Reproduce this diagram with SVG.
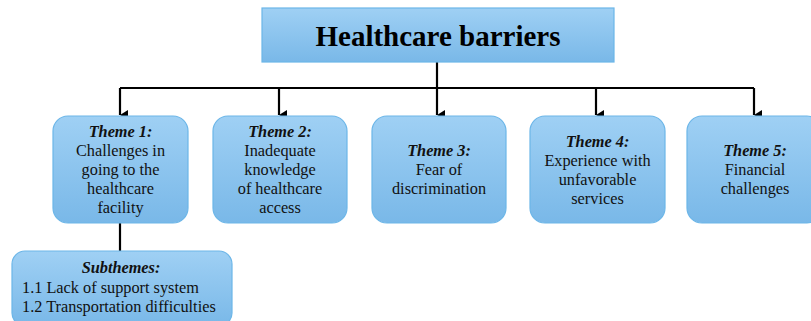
<svg xmlns="http://www.w3.org/2000/svg" width="811" height="321" viewBox="0 0 811 321">
  <defs>
    <linearGradient id="boxFill" x1="0" y1="0" x2="0" y2="1">
      <stop offset="0" stop-color="#9fd0f4"/>
      <stop offset="1" stop-color="#79b8e8"/>
    </linearGradient>
    <marker id="arrow" markerWidth="10" markerHeight="10" refX="5" refY="8" orient="auto" markerUnits="userSpaceOnUse" viewBox="0 0 10 10">
      <path d="M0,0 L10,0 L5,8 Z" fill="#000"/>
    </marker>
    <style>
      .box { fill: url(#boxFill); stroke: #6cb6e8; stroke-width: 1.2; }
      .wire { fill: none; stroke: #000; stroke-width: 2.2; }
      .t { font-family: "Liberation Serif", "Times New Roman", serif; font-size: 16.3px; fill: #111; text-anchor: middle; }
      .h { font-weight: bold; font-style: italic; }
      .title { font-family: "Liberation Serif", "Times New Roman", serif; font-size: 29px; font-weight: bold; fill: #000; text-anchor: middle; }
    </style>
  </defs>

  <g id="connectors">
    <line class="wire" x1="437" y1="62" x2="437" y2="88"/>
    <polyline class="wire" points="120,88 754,88"/>
    <line class="wire" x1="120" y1="88" x2="120" y2="115" marker-end="url(#arrow)"/>
    <line class="wire" x1="279" y1="88" x2="279" y2="115" marker-end="url(#arrow)"/>
    <line class="wire" x1="437" y1="88" x2="437" y2="115" marker-end="url(#arrow)"/>
    <line class="wire" x1="596" y1="88" x2="596" y2="115" marker-end="url(#arrow)"/>
    <line class="wire" x1="754" y1="88" x2="754" y2="115" marker-end="url(#arrow)"/>
    <line class="wire" x1="120" y1="223" x2="120" y2="251"/>
  </g>

  <g id="title">
    <rect class="box" x="262" y="8" width="352" height="54"/>
    <text class="title" x="438" y="46">Healthcare barriers</text>
  </g>

  <g id="theme1">
    <rect class="box" x="53" y="116" width="135" height="107" rx="15"/>
    <text class="t" x="120.5" y="137"><tspan class="h">Theme 1:</tspan><tspan x="120.5" dy="19">Challenges in</tspan><tspan x="120.5" dy="19">going to the</tspan><tspan x="120.5" dy="19">healthcare</tspan><tspan x="120.5" dy="19">facility</tspan></text>
  </g>

  <g id="theme2">
    <rect class="box" x="213" y="116" width="134" height="107" rx="15"/>
    <text class="t" x="280" y="137"><tspan class="h">Theme 2:</tspan><tspan x="280" dy="19">Inadequate</tspan><tspan x="280" dy="19">knowledge</tspan><tspan x="280" dy="19">of healthcare</tspan><tspan x="280" dy="19">access</tspan></text>
  </g>

  <g id="theme3">
    <rect class="box" x="372" y="116" width="134" height="107" rx="15"/>
    <text class="t" x="439" y="156"><tspan class="h">Theme 3:</tspan><tspan x="439" dy="19">Fear of</tspan><tspan x="439" dy="19">discrimination</tspan></text>
  </g>

  <g id="theme4">
    <rect class="box" x="530" y="116" width="135" height="107" rx="15"/>
    <text class="t" x="597.5" y="147"><tspan class="h">Theme 4:</tspan><tspan x="597.5" dy="19">Experience with</tspan><tspan x="597.5" dy="19">unfavorable</tspan><tspan x="597.5" dy="19">services</tspan></text>
  </g>

  <g id="theme5">
    <rect class="box" x="687" y="116" width="135" height="107" rx="15"/>
    <text class="t" x="755" y="156"><tspan class="h">Theme 5:</tspan><tspan x="755" dy="19">Financial</tspan><tspan x="755" dy="19">challenges</tspan></text>
  </g>

  <g id="subthemes">
    <rect class="box" x="12" y="251" width="220" height="75" rx="13"/>
    <text class="t" x="121" y="273"><tspan class="h">Subthemes:</tspan></text>
    <text class="t" x="22" y="293" style="text-anchor:start">1.1 Lack of support system</text>
    <text class="t" x="22" y="312" style="text-anchor:start">1.2 Transportation difficulties</text>
  </g>
</svg>
